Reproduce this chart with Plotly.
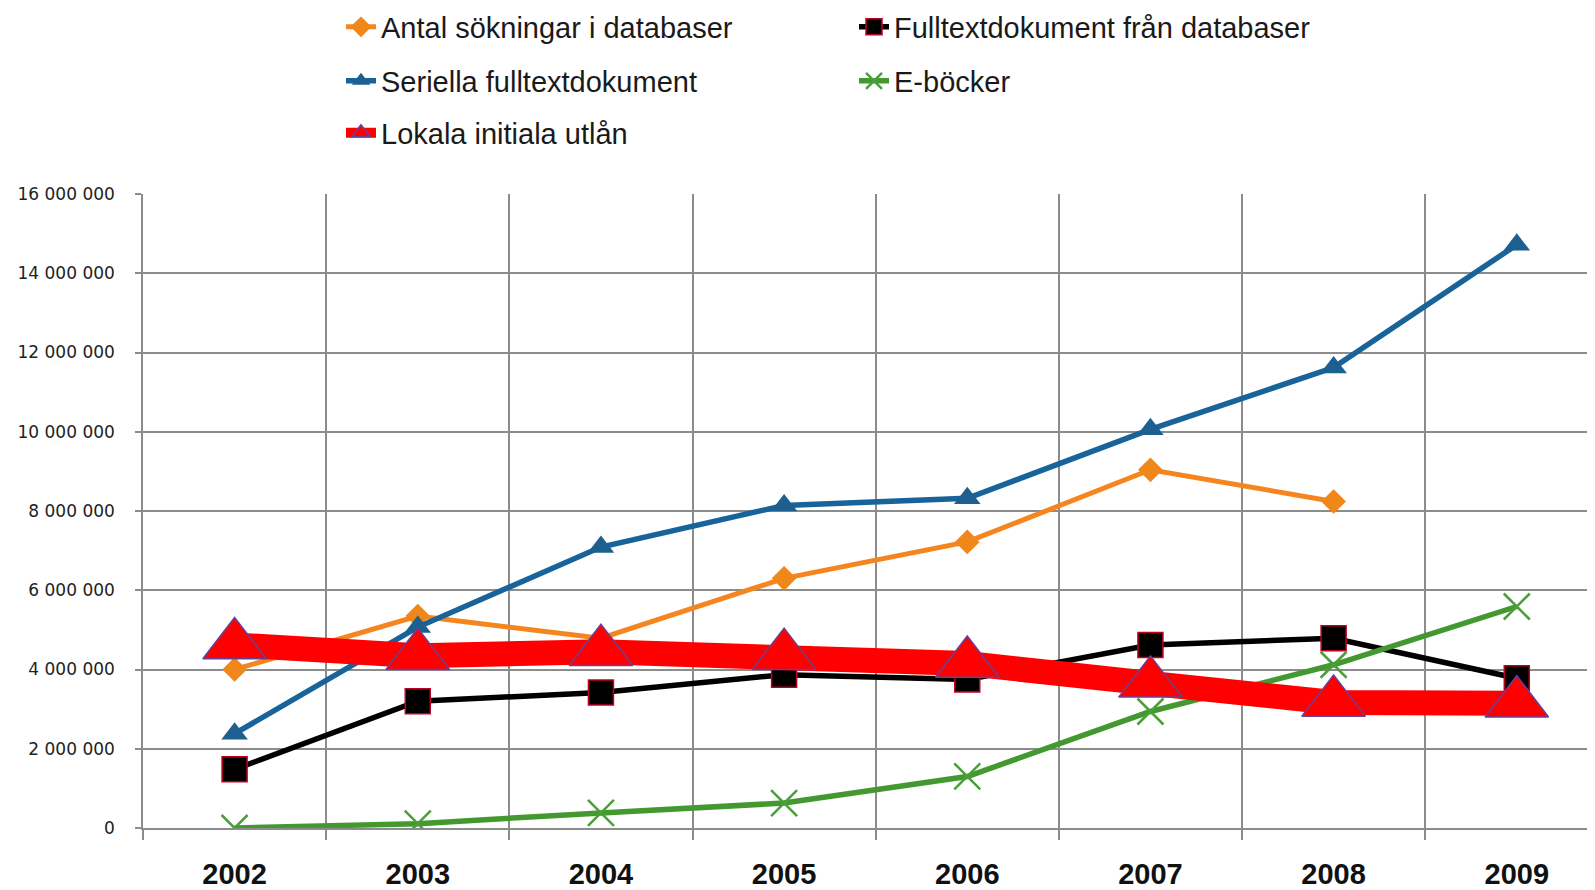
import plotly.graph_objects as go

years = ["2002", "2003", "2004", "2005", "2006", "2007", "2008", "2009"]

antal_sokningar = [4000000, 5350000, 4790000, 6300000, 7220000, 9040000, 8240000, None]
fulltext_databaser = [1480000, 3200000, 3420000, 3870000, 3750000, 4620000, 4790000, 3780000]
seriella_fulltext = [2380000, 5070000, 7090000, 8140000, 8320000, 10060000, 11620000, 14720000]
e_bocker = [0, 110000, 380000, 630000, 1300000, 2940000, 4120000, 5590000]
lokala_utlan = [4620000, 4350000, 4450000, 4350000, 4150000, 3650000, 3170000, 3150000]

y_ticks = [0, 2000000, 4000000, 6000000, 8000000, 10000000, 12000000, 14000000, 16000000]

xs = list(range(len(years)))
grid = "#8c8c8c"

# the page body has an 8px margin, so the figure is a little smaller than the window
W, H = 1587, 882

fig = go.Figure()

fig.add_trace(go.Scatter(
    x=xs, y=antal_sokningar, name="Antal sökningar i databaser", mode="lines+markers",
    line=dict(color="#f5861f", width=5),
    marker=dict(symbol="diamond", size=19, color="#f0871a"),
    legend="legend"))
fig.add_trace(go.Scatter(
    x=xs, y=fulltext_databaser, name="Fulltextdokument från databaser", mode="lines+markers",
    line=dict(color="#000000", width=5.5),
    marker=dict(symbol="square", size=25, color="#000000", line=dict(color="#c00020", width=1.5)),
    legend="legend2"))
fig.add_trace(go.Scatter(
    x=xs, y=seriella_fulltext, name="Seriella fulltextdokument", mode="lines+markers",
    line=dict(color="#17639a", width=5.5),
    marker=dict(symbol="triangle-up", size=23, color="#1d5f8e"),
    legend="legend3"))
fig.add_trace(go.Scatter(
    x=xs, y=e_bocker, name="E-böcker", mode="lines+markers",
    line=dict(color="#43992f", width=5.5),
    marker=dict(symbol="x-thin", size=26, line=dict(color="#4a9f3a", width=2.5)),
    legend="legend4"))
fig.add_trace(go.Scatter(
    x=xs, y=lokala_utlan, name="Lokala initiala utlån", mode="lines+markers",
    line=dict(color="#ff0000", width=25),
    marker=dict(symbol="triangle-up", size=55, color="#ff0000", line=dict(color="#6a3f9a", width=1.5)),
    legend="legend5"))

leg_font = dict(family="Liberation Sans, Arial, sans-serif", size=29, color="#1a1a1a")


def legend_at(x_px, y_px):
    return dict(x=x_px / W, y=1 - y_px / H, xref="container", yref="container",
                xanchor="left", yanchor="middle", bgcolor="rgba(0,0,0,0)",
                font=leg_font, itemclick=False, visible=True)


fig.update_layout(
    width=W, height=H,
    margin=dict(l=135, r=0, t=186, b=62, autoexpand=False),
    plot_bgcolor="white", paper_bgcolor="white",
    separators=", ",
    showlegend=True,
    legend=legend_at(333, 19),
    legend2=legend_at(846, 19),
    legend3=legend_at(333, 73),
    legend4=legend_at(846, 73),
    legend5=legend_at(333, 125),
    xaxis=dict(
        range=[-0.5, 7.427], tickvals=xs, ticktext=years, showgrid=False,
        ticks="", zeroline=False, showline=True, linecolor=grid, linewidth=1.5,
        tickfont=dict(family="Liberation Sans, Arial, sans-serif", size=29, color="#111", weight="bold"),
        ticklabelstandoff=19,
        minor=dict(tick0=0.5, dtick=1, showgrid=True, gridcolor=grid, gridwidth=1.5,
                   ticks="outside", ticklen=10, tickcolor=grid, tickwidth=1.5),
    ),
    yaxis=dict(
        range=[0, 16000000], tickvals=y_ticks, tickformat=",d",
        showgrid=True, gridcolor=grid, gridwidth=1.5, zeroline=False,
        showline=True, linecolor=grid, linewidth=1.5,
        ticks="outside", ticklen=6, tickcolor=grid, tickwidth=1.5,
        tickfont=dict(family="DejaVu Sans, sans-serif", size=17, color="#222"),
        ticklabelstandoff=17,
    ),
)

fig.write_html("out.html")
